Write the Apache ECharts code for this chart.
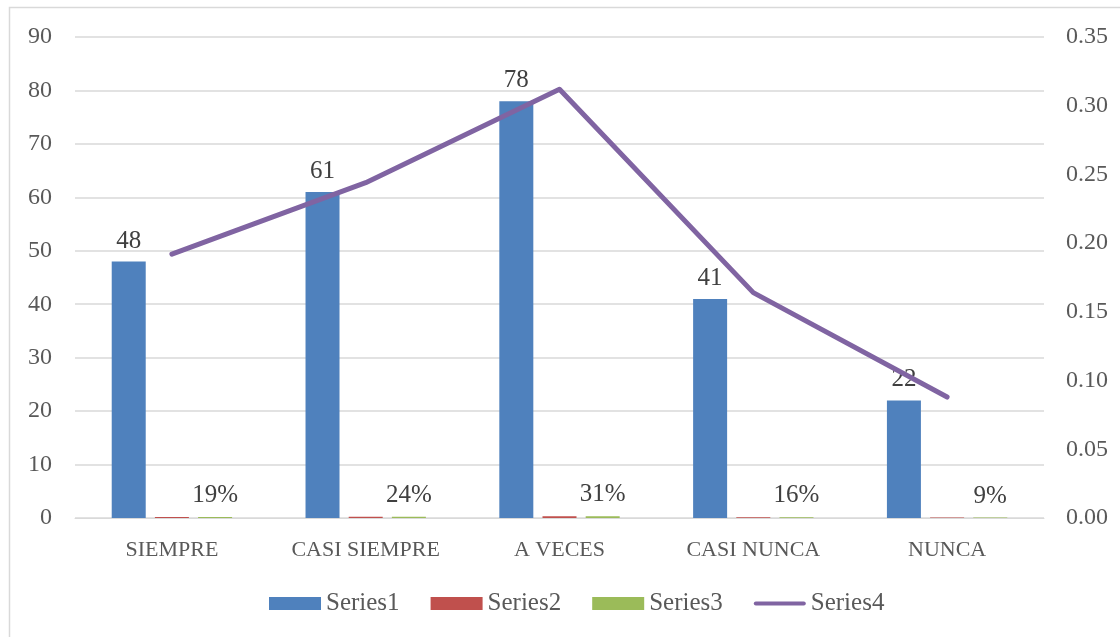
<!DOCTYPE html>
<html><head><meta charset="utf-8">
<script src="https://cdn.jsdelivr.net/npm/echarts@6/dist/echarts.min.js"></script>
<style>html,body{margin:0;padding:0;background:#fff}#c{width:1120px;height:637px}</style>
</head><body><div id="c"></div>
<script>
var categories = ['SIEMPRE', 'CASI SIEMPRE', 'A VECES', 'CASI NUNCA', 'NUNCA'];
var series1 = [48, 61, 78, 41, 22];
var series2 = [0.19, 0.24, 0.31, 0.16, 0.09];
var series3 = [0.19, 0.24, 0.31, 0.16, 0.09];
var series4 = [0.192, 0.244, 0.312, 0.164, 0.088];
var leftTicks = {min: 0, max: 90, interval: 10};
var rightTicks = {min: 0, max: 0.35, interval: 0.05};

var FONT = 'Liberation Serif';
var TXT = '#595959';
var chart = echarts.init(document.getElementById('c'), null, {renderer: 'canvas'});
chart.setOption({
  animation: false,
  backgroundColor: '#fff',
  graphic: [{type: 'rect', shape: {x: 9.5, y: 7.5, width: 1130, height: 660}, style: {fill: 'none', stroke: '#d9d9d9', lineWidth: 1.5}, silent: true}],
  grid: {left: 75, right: 76, top: 37, bottom: 119},
  legend: {
    top: 586, left: 264, itemWidth: 52, itemHeight: 13, itemGap: 31,
    textStyle: {fontFamily: FONT, fontSize: 25, color: TXT},
    data: [
      {name: 'Series1', icon: 'rect'},
      {name: 'Series2', icon: 'rect'},
      {name: 'Series3', icon: 'rect'},
      {name: 'Series4', icon: 'path://M2,0 L50,0 A2,2 0 0 1 50,4 L2,4 A2,2 0 0 1 2,0 Z'}
    ]
  },
  xAxis: {
    type: 'category', data: categories,
    axisLine: {lineStyle: {color: '#d9d9d9', width: 1}},
    axisTick: {show: false},
    axisLabel: {fontFamily: FONT, fontSize: 22, color: TXT, margin: 21}
  },
  yAxis: [{
    type: 'value', min: leftTicks.min, max: leftTicks.max, interval: leftTicks.interval,
    axisLine: {show: false}, axisTick: {show: false},
    splitLine: {lineStyle: {color: '#d9d9d9', width: 1.5}},
    axisLabel: {fontFamily: FONT, fontSize: 24, color: TXT, margin: 23}
  }, {
    type: 'value', min: rightTicks.min, max: rightTicks.max, interval: rightTicks.interval,
    axisLine: {show: false}, axisTick: {show: false}, splitLine: {show: false},
    axisLabel: {fontFamily: FONT, fontSize: 24, color: TXT, margin: 22,
      formatter: function (v) { return v.toFixed(2); }}
  }],
  series: [{
    name: 'Series1', type: 'bar', data: series1, barWidth: 34, barGap: '27%',
    itemStyle: {color: '#4f81bd'},
    label: {show: true, position: 'top', distance: 8, fontFamily: FONT, fontSize: 25, color: '#404040'}
  }, {
    name: 'Series2', type: 'bar', data: series2, barWidth: 34, barGap: '27%',
    itemStyle: {color: '#c0504d'}
  }, {
    name: 'Series3', type: 'bar', data: series3, barWidth: 34, barGap: '27%',
    itemStyle: {color: '#9bbb59'},
    label: {show: true, position: 'top', distance: 9, fontFamily: FONT, fontSize: 25, color: '#404040',
      formatter: function (p) { return Math.round(p.value * 100) + '%'; }}
  }, {
    name: 'Series4', type: 'line', yAxisIndex: 1, data: series4, symbol: 'none',
    lineStyle: {color: '#8064a2', width: 5, cap: 'round', join: 'round'},
    itemStyle: {color: '#8064a2'}, z: 5
  }]
});
</script></body></html>
